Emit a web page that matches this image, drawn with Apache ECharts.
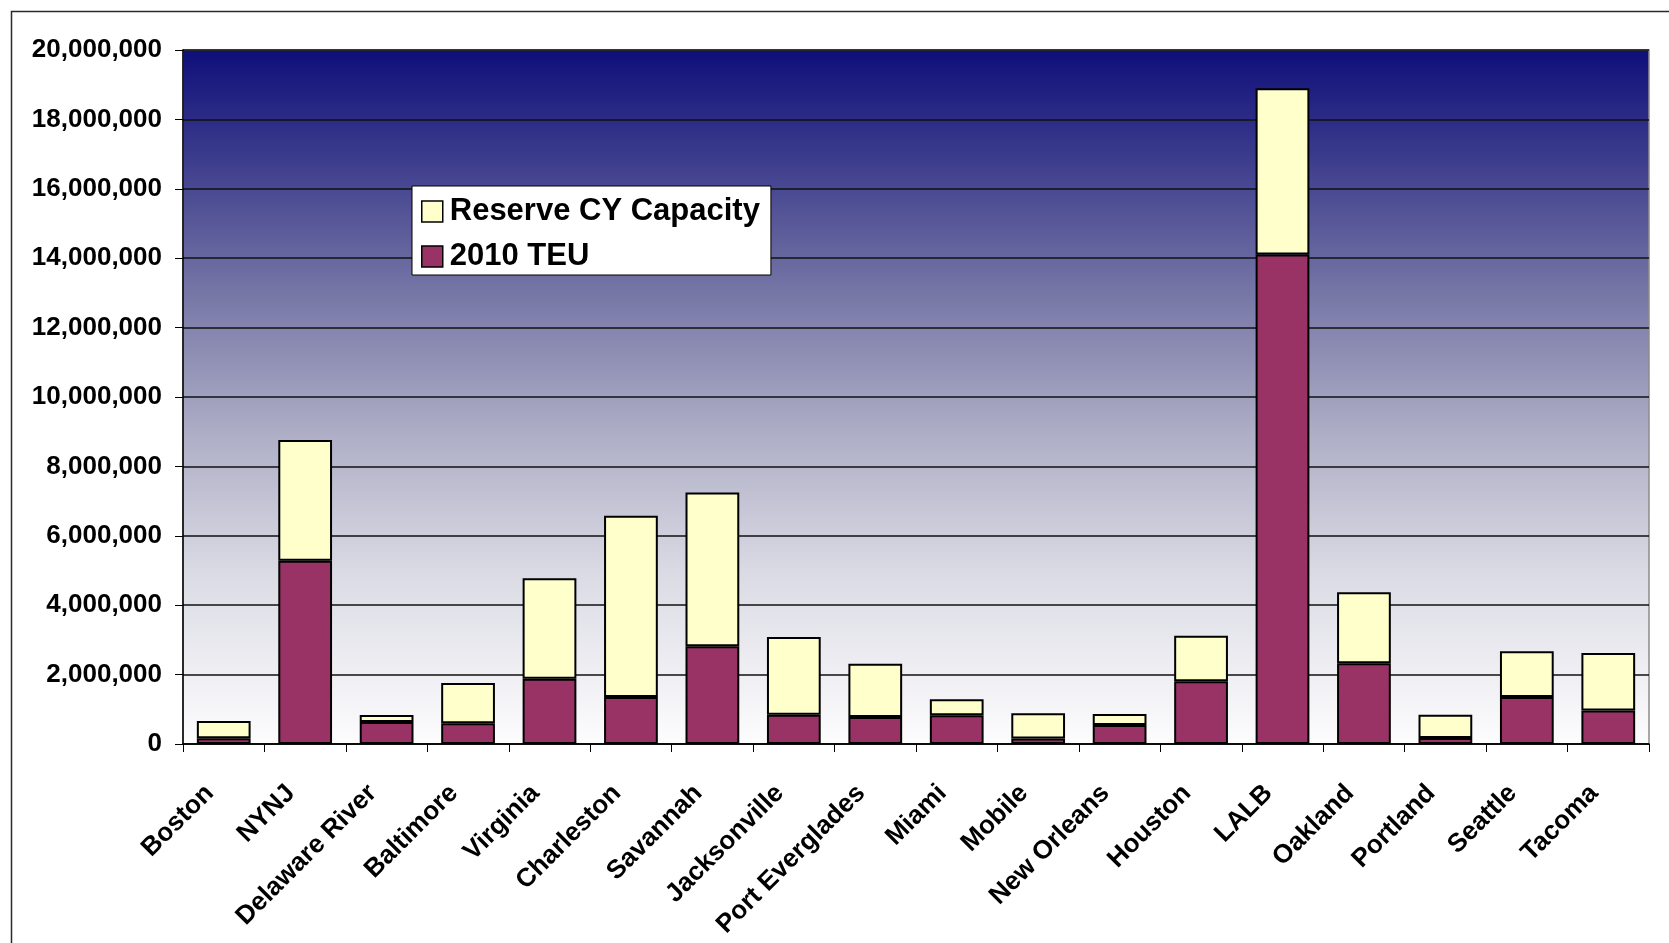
<!DOCTYPE html>
<html>
<head>
<meta charset="utf-8">
<script src="https://cdn.jsdelivr.net/npm/echarts@6/dist/echarts.min.js"></script>
<style>
  html, body { margin: 0; padding: 0; background: #ffffff; }
  #chart { width: 1669px; height: 943px; }
</style>
</head>
<body>
<div id="chart"></div>
<script>
// Container ports
const ports = ['Boston', 'NYNJ', 'Delaware River', 'Baltimore', 'Virginia', 'Charleston',
  'Savannah', 'Jacksonville', 'Port Everglades', 'Miami', 'Mobile', 'New Orleans',
  'Houston', 'LALB', 'Oakland', 'Portland', 'Seattle', 'Tacoma'];

// 2010 throughput (TEU)
const teu2010 = [165000, 5280000, 635000, 600000, 1880000, 1355000,
  2815000, 840000, 780000, 830000, 155000, 550000,
  1810000, 14110000, 2330000, 175000, 1355000, 965000];

// Remaining container-yard capacity stacked above the 2010 volume
const reserveCY = [500000, 3480000, 200000, 1160000, 2895000, 5225000,
  4435000, 2240000, 1535000, 460000, 730000, 315000,
  1310000, 4790000, 2040000, 670000, 1315000, 1655000];

// Value axis ticks
const yMin = 0;
const yMax = 20000000;
const yStep = 2000000;

const FONT = '"Liberation Sans", Arial, sans-serif';

const chart = echarts.init(document.getElementById('chart'), null, { renderer: 'canvas' });

chart.setOption({
  animation: false,
  backgroundColor: '#ffffff',
  textStyle: { fontFamily: FONT },
  graphic: [{
    type: 'rect',
    left: 9, top: 9,
    shape: { width: 1720, height: 1000 },
    style: { fill: 'none', stroke: '#2a2a2a', lineWidth: 1.5 },
    silent: true, z: -10
  }],
  grid: {
    left: 183, top: 50, right: 20, bottom: 199,
    show: true,
    borderColor: '#8c8c8c',
    borderWidth: 1.5,
    backgroundColor: {
      type: 'linear', x: 0, y: 0, x2: 0, y2: 1,
      colorStops: [
        { offset: 0, color: '#0e0e7a' },
        { offset: 0.15, color: '#3a3a8c' },
        { offset: 0.35, color: '#7676a6' },
        { offset: 0.55, color: '#adadc6' },
        { offset: 0.75, color: '#dadae4' },
        { offset: 1, color: '#fdfdfe' }
      ]
    }
  },
  legend: {
    orient: 'vertical',
    left: 412, top: 186,
    data: ['Reserve CY Capacity', '2010 TEU'],
    backgroundColor: '#ffffff',
    borderColor: '#000000',
    borderWidth: 1,
    padding: [10, 11, 3, 9],
    itemWidth: 21,
    itemHeight: 21,
    itemGap: 14,
    icon: 'rect',
    itemStyle: { borderColor: '#000000', borderWidth: 1.5 },
    textStyle: { fontFamily: FONT, fontSize: 31, fontWeight: 'bold', color: '#000000', padding: [0, 0, 0, 2] }
  },
  xAxis: {
    type: 'category',
    data: ports,
    axisLine: { show: true, lineStyle: { color: '#000000', width: 1.5 } },
    axisTick: { show: true, length: 8, lineStyle: { color: '#000000', width: 1 } },
    axisLabel: {
      interval: 0,
      rotate: 45,
      margin: 31,
      padding: [0, 20, 0, 0],
      fontFamily: FONT,
      fontSize: 26,
      fontWeight: 'bold',
      color: '#000000'
    }
  },
  yAxis: {
    type: 'value',
    min: yMin,
    max: yMax,
    interval: yStep,
    axisLine: { show: true, lineStyle: { color: '#000000', width: 1.5 } },
    axisTick: { show: true, length: 8, lineStyle: { color: '#000000', width: 1 } },
    splitLine: { show: true, lineStyle: { color: '#111111', width: 1.5 } },
    axisLabel: {
      margin: 21,
      fontFamily: FONT,
      fontSize: 26,
      fontWeight: 'bold',
      color: '#000000',
      formatter: v => v.toLocaleString('en-US')
    }
  },
  series: [
    {
      name: '2010 TEU',
      type: 'bar',
      stack: 'cap',
      data: teu2010,
      barCategoryGap: '34%',
      itemStyle: { color: '#993366', borderColor: '#000000', borderWidth: 2 }
    },
    {
      name: 'Reserve CY Capacity',
      type: 'bar',
      stack: 'cap',
      data: reserveCY,
      barCategoryGap: '34%',
      itemStyle: { color: '#ffffcc', borderColor: '#000000', borderWidth: 2 }
    }
  ]
});
</script>
</body>
</html>
